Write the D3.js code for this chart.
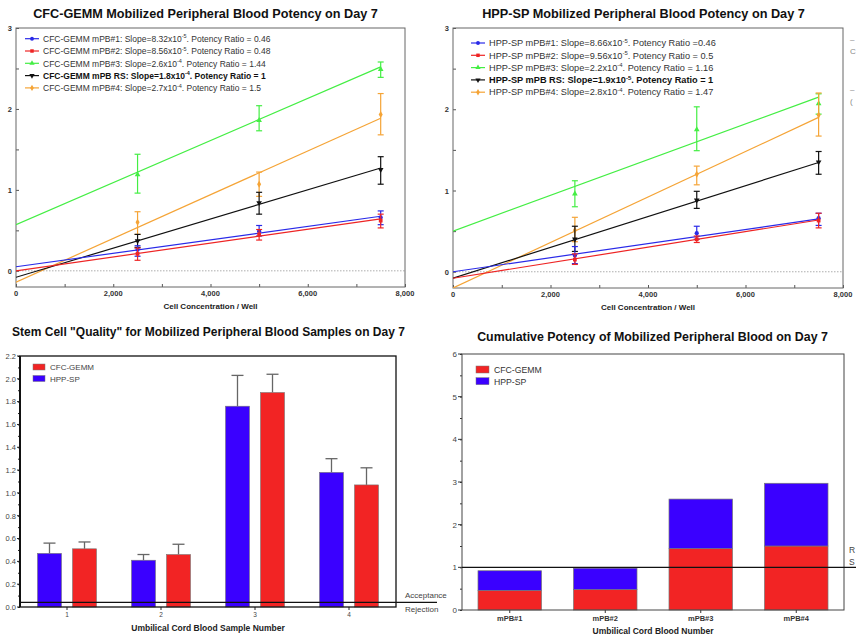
<!DOCTYPE html>
<html><head><meta charset="utf-8">
<script src="https://cdn.jsdelivr.net/npm/d3@7"></script>
<style>
body{margin:0;background:#fff;}
svg{display:block;font-family:"Liberation Sans",Arial,sans-serif;}
</style></head>
<body>
<svg id="c" width="856" height="637"></svg>
<script>
// ---------- DATA ----------
const cellConc = [2500, 5000, 7500];
const fitX = [0, 7500];
const xTicks = [0, 2000, 4000, 6000, 8000];
const yTicksLine = [0, 1, 2, 3];

const seriesColors = ["#2a2ae8", "#ee2424", "#44ee44", "#111111", "#f5a436"];
const seriesSymbols = ["circle", "square", "triangle", "triangleDown", "diamond"];

// CFC-GEMM panel
const cfcNames = ["CFC-GEMM mPB#1", "CFC-GEMM mPB#2", "CFC-GEMM mPB#3", "CFC-GEMM mPB RS", "CFC-GEMM mPB#4"];
const cfcSlope = ["8.32x10", "8.56x10", "2.6x10", "1.8x10", "2.7x10"];
const cfcSlopeExp = ["-5", "-5", "-4", "-4", "-4"];
const cfcRatio = [" = 0.46", " = 0.48", " = 1.44", " = 1", " = 1.5"];
const cfcMean = [[0.26, 0.49, 0.66], [0.21, 0.45, 0.62], [1.19, 1.86, 2.49], [0.37, 0.84, 1.25], [0.60, 1.07, 1.93]];
const cfcLow  = [[0.18, 0.43, 0.57], [0.13, 0.38, 0.53], [0.96, 1.73, 2.39], [0.29, 0.70, 1.07], [0.45, 0.92, 1.68]];
const cfcHigh = [[0.31, 0.56, 0.74], [0.28, 0.51, 0.70], [1.44, 2.04, 2.58], [0.45, 0.97, 1.41], [0.73, 1.22, 2.19]];
const cfcFit  = [[0.05, 0.674], [0.0, 0.642], [0.57, 2.52], [-0.08, 1.27], [-0.14, 1.885]];

// HPP-SP panel
const hppNames = ["HPP-SP mPB#1", "HPP-SP mPB#2", "HPP-SP mPB#3", "HPP-SP mPB RS", "HPP-SP mPB#4"];
const hppSlope = ["8.66x10", "9.56x10", "2.2x10", "1.9x10", "2.8x10"];
const hppSlopeExp = ["-5", "-5", "-4", "-5", "-4"];
const hppRatio = [" =0.46", " = 0.5", " = 1.16", " = 1", " = 1.47"];
const hppMean = [[0.20, 0.475, 0.66], [0.15, 0.40, 0.63], [0.96, 1.75, 2.07], [0.40, 0.88, 1.35], [0.51, 1.20, 1.93]];
const hppLow  = [[0.10, 0.40, 0.57], [0.09, 0.36, 0.54], [0.80, 1.49, 1.94], [0.25, 0.78, 1.20], [0.37, 1.07, 1.67]];
const hppHigh = [[0.31, 0.56, 0.72], [0.22, 0.44, 0.72], [1.12, 2.03, 2.19], [0.56, 0.99, 1.48], [0.67, 1.30, 2.20]];
const hppFit  = [[0.0, 0.65], [-0.08, 0.637], [0.5, 2.15], [-0.08, 1.345], [-0.2, 1.9]];

// Stem cell quality
const sampleNums = ["1", "2", "3", "4"];
const qualKeys = ["HPP-SP", "CFC-GEMM"];
const qualHPP = [0.47, 0.41, 1.76, 1.18];
const qualHPPErr = [0.56, 0.46, 2.03, 1.30];
const qualCFC = [0.51, 0.46, 1.88, 1.07];
const qualCFCErr = [0.57, 0.55, 2.04, 1.22];
const qualTicks = [0, 0.2, 0.4, 0.6, 0.8, 1.0, 1.2, 1.4, 1.6, 1.8, 2.0, 2.2];
const acceptanceLevel = 0.04;

// Cumulative potency
const mpbLabels = ["mPB#1", "mPB#2", "mPB#3", "mPB#4"];
const cumCFC = [0.46, 0.48, 1.44, 1.5];
const cumHPP = [0.46, 0.5, 1.16, 1.47];
const cumTicks = [0, 1, 2, 3, 4, 5, 6];
const refLevel = 1;

const RED = "#f22424", BLUE = "#3a00ff";

// ---------- DRAW ----------
const svg = d3.select("#c");

function fitWidth(sel, target) {
  const fs = parseFloat(sel.attr("font-size"));
  const len = sel.node().getComputedTextLength();
  if (len > 0) sel.attr("font-size", (fs * target / len).toFixed(2));
  return sel;
}
function title(x, y, w, txt) {
  const t = svg.append("text").attr("x", x).attr("y", y).attr("text-anchor", "middle")
    .attr("font-size", 14).attr("font-weight", "bold").attr("fill", "#111").text(txt);
  fitWidth(t, w);
}

function symbolPath(name, size) {
  const map = {circle: d3.symbolCircle, square: d3.symbolSquare, triangle: d3.symbolTriangle,
    triangleDown: d3.symbolTriangle, diamond: d3.symbolDiamond};
  return d3.symbol().type(map[name]).size(size)();
}

function linePanel(o) {
  const x = d3.scaleLinear().domain([0, 8000]).range([o.x0, o.x1]);
  const y = d3.scaleLinear().domain([-0.2, 3]).range([o.yB, o.yT]);
  const g = svg.append("g");
  const clipId = "clip" + o.id;
  svg.append("clipPath").attr("id", clipId).append("rect")
    .attr("x", o.x0).attr("y", o.yT).attr("width", o.x1 - o.x0).attr("height", o.yB - o.yT);

  title(o.titleX, 18, o.titleW, o.title);

  // zero line
  g.append("line").attr("x1", o.x0).attr("x2", o.x1).attr("y1", y(0)).attr("y2", y(0))
    .attr("stroke", "#999").attr("stroke-width", 0.8).attr("stroke-dasharray", "1.5,1.5");

  // axes (ticks inside)
  const ax = g.append("g").attr("transform", `translate(0,${o.yB})`)
    .call(d3.axisBottom(x).tickValues(d3.range(0, 8001, 1000)).tickSize(-3).tickFormat(""));
  ax.select(".domain").remove();
  ax.selectAll("line").attr("stroke", "#555");
  g.selectAll(".xl").data(xTicks).join("text").attr("x", d => x(d)).attr("y", o.yB + 9)
    .attr("text-anchor", "middle").attr("font-size", 7.5).attr("font-weight", "bold").attr("fill", "#333")
    .text(d => d3.format(",")(d));
  const ay = g.append("g").attr("transform", `translate(${o.x0},0)`)
    .call(d3.axisLeft(y).tickValues([0, 0.5, 1, 1.5, 2, 2.5, 3]).tickSize(-3).tickFormat(""));
  ay.select(".domain").remove();
  ay.selectAll("line").attr("stroke", "#555");
  g.selectAll(".yl").data(yTicksLine).join("text").attr("x", o.x0 - 4).attr("y", d => y(d) + 3)
    .attr("text-anchor", "end").attr("font-size", 7.5).attr("font-weight", "bold").attr("fill", "#333")
    .text(d => d);
  g.append("text").attr("x", (o.x0 + o.x1) / 2).attr("y", o.yB + 22).attr("text-anchor", "middle")
    .attr("font-size", 8).attr("font-weight", "bold").attr("fill", "#222").text("Cell Concentration / Well");

  // frame
  g.append("rect").attr("x", o.x0).attr("y", o.yT).attr("width", o.x1 - o.x0).attr("height", o.yB - o.yT)
    .attr("fill", "none").attr("stroke", "#666").attr("stroke-width", 1);

  const pg = g.append("g").attr("clip-path", `url(#${clipId})`);
  const order = [2, 4, 3, 0, 1];
  order.forEach(i => {
    const c = seriesColors[i];
    pg.append("line").attr("x1", x(fitX[0])).attr("x2", x(fitX[1]))
      .attr("y1", y(o.fit[i][0])).attr("y2", y(o.fit[i][1]))
      .attr("stroke", c).attr("stroke-width", 1.2);
    cellConc.forEach((cx, j) => {
      const px = x(cx);
      pg.append("line").attr("x1", px).attr("x2", px).attr("y1", y(o.low[i][j])).attr("y2", y(o.high[i][j]))
        .attr("stroke", c).attr("stroke-width", 1.2);
      [o.low[i][j], o.high[i][j]].forEach(v => pg.append("line").attr("x1", px - 3).attr("x2", px + 3)
        .attr("y1", y(v)).attr("y2", y(v)).attr("stroke", c).attr("stroke-width", 1.2));
      pg.append("path").attr("d", symbolPath(seriesSymbols[i], 14))
        .attr("transform", `translate(${px},${y(o.mean[i][j])})` + (seriesSymbols[i] === "triangleDown" ? " rotate(180)" : ""))
        .attr("fill", c);
    });
  });

  // legend
  o.names.forEach((n, i) => {
    const ly = o.legY + i * 12.3;
    const c = seriesColors[i];
    g.append("line").attr("x1", o.legX).attr("x2", o.legX + 14).attr("y1", ly).attr("y2", ly)
      .attr("stroke", c).attr("stroke-width", 1.2);
    g.append("path").attr("d", symbolPath(seriesSymbols[i], 12))
      .attr("transform", `translate(${o.legX + 7},${ly})` + (seriesSymbols[i] === "triangleDown" ? " rotate(180)" : ""))
      .attr("fill", c);
    const bold = i === 3;
    const t = g.append("text").attr("x", o.legX + 18).attr("y", ly + 3.2)
      .attr("font-size", o.legFs).attr("fill", bold ? "#111" : "#333").attr("font-weight", bold ? "bold" : "normal");
    t.append("tspan").text(n + ": Slope=" + o.slope[i]);
    t.append("tspan").attr("font-size", o.legFs * 0.65).attr("dy", -3.5).text(o.exp[i]);
    t.append("tspan").attr("dy", 3.5).text(". Potency Ratio" + o.ratio[i]);
  });
}

linePanel({id: "a", x0: 16, x1: 405, yT: 28, yB: 287, titleX: 205.5, titleW: 345,
  title: "CFC-GEMM Mobilized Peripheral Blood Potency on Day 7",
  mean: cfcMean, low: cfcLow, high: cfcHigh, fit: cfcFit, legFs: 8.5,
  names: cfcNames, slope: cfcSlope, exp: cfcSlopeExp, ratio: cfcRatio, legX: 25, legY: 38.7});
linePanel({id: "b", x0: 453, x1: 843, yT: 28, yB: 288, titleX: 643.5, titleW: 323,
  title: "HPP-SP Mobilized Peripheral Blood Potency on Day 7",
  mean: hppMean, low: hppLow, high: hppHigh, fit: hppFit, legFs: 9.2,
  names: hppNames, slope: hppSlope, exp: hppSlopeExp, ratio: hppRatio, legX: 471, legY: 43});

// partially visible side labels at right edge
["–", "C", "", "–", "(", ].forEach((s, i) => svg.append("text").attr("x", 850).attr("y", 42 + i * 12 + (i > 2 ? 14 : 0))
  .attr("font-size", 8).attr("fill", "#888").text(s));

// ---------- Quality panel ----------
{
  const x0 = 20, x1 = 396, yT = 356, yB = 607;
  const x = d3.scaleBand().domain(sampleNums).range([x0, x1]).paddingInner(0.372).paddingOuter(0.186);
  const xs = d3.scaleBand().domain(qualKeys).range([0, x.bandwidth()]).paddingInner(0.314);
  const y = d3.scaleLinear().domain([0, 2.2]).range([yB, yT]);
  const g = svg.append("g");
  title(208.5, 336, 393, 'Stem Cell "Quality" for Mobilized Peripheral Blood Samples on Day 7');

  const vals = {"HPP-SP": qualHPP, "CFC-GEMM": qualCFC};
  const errs = {"HPP-SP": qualHPPErr, "CFC-GEMM": qualCFCErr};
  const cols = {"HPP-SP": BLUE, "CFC-GEMM": RED};
  qualKeys.forEach(k => {
    sampleNums.forEach((s, i) => {
      const bx = x(s) + xs(k), bw = xs.bandwidth();
      g.append("line").attr("x1", bx + bw / 2).attr("x2", bx + bw / 2).attr("y1", y(vals[k][i])).attr("y2", y(errs[k][i]))
        .attr("stroke", "#666").attr("stroke-width", 1.3);
      g.append("line").attr("x1", bx + bw / 2 - 6).attr("x2", bx + bw / 2 + 6).attr("y1", y(errs[k][i])).attr("y2", y(errs[k][i]))
        .attr("stroke", "#666").attr("stroke-width", 1.3);
      g.append("rect").attr("x", bx).attr("y", y(vals[k][i])).attr("width", bw).attr("height", y(0) - y(vals[k][i]))
        .attr("fill", cols[k]).attr("stroke", "#777").attr("stroke-width", 0.6);
    });
  });

  // axes
  const ay = g.append("g").attr("transform", `translate(${x0},0)`)
    .call(d3.axisLeft(y).tickValues(d3.range(0, 2.21, 0.1)).tickSize(2).tickFormat(""));
  ay.select(".domain").remove();
  ay.selectAll("line").attr("stroke", "#222");
  g.selectAll(".ql").data(qualTicks).join("text").attr("x", 16).attr("y", d => y(d) + 2.8)
    .attr("text-anchor", "end").attr("font-size", 7.5).attr("fill", "#444").text(d => d.toFixed(1));
  g.selectAll(".qmaj").data(qualTicks).join("line").attr("x1", x0 - 3).attr("x2", x0).attr("y1", d => y(d)).attr("y2", d => y(d))
    .attr("stroke", "#222");
  sampleNums.forEach(s => {
    const cx = x(s) + x.bandwidth() / 2;
    g.append("line").attr("x1", cx).attr("x2", cx).attr("y1", yB).attr("y2", yB + 3).attr("stroke", "#222");
    g.append("text").attr("x", cx).attr("y", yB + 10).attr("text-anchor", "middle").attr("font-size", 6.5).attr("fill", "#444").text(s);
  });
  g.append("text").attr("x", 208).attr("y", 631).attr("text-anchor", "middle").attr("font-size", 8.5)
    .attr("font-weight", "bold").attr("fill", "#222").text("Umbilical Cord Blood Sample Number");

  g.append("rect").attr("x", x0).attr("y", yT).attr("width", x1 - x0).attr("height", yB - yT)
    .attr("fill", "none").attr("stroke", "#111").attr("stroke-width", 1.3);
  g.append("line").attr("x1", x0).attr("x2", x0).attr("y1", yT).attr("y2", yB).attr("stroke", "#111").attr("stroke-width", 2);

  // acceptance line
  g.append("line").attr("x1", x0).attr("x2", 437).attr("y1", y(acceptanceLevel)).attr("y2", y(acceptanceLevel))
    .attr("stroke", "#111").attr("stroke-width", 1.3);
  g.append("text").attr("x", 405).attr("y", 598).attr("font-size", 8).attr("fill", "#444").text("Acceptance");
  g.append("text").attr("x", 405).attr("y", 612).attr("font-size", 8).attr("fill", "#444").text("Rejection");

  // legend
  [["CFC-GEMM", RED], ["HPP-SP", BLUE]].forEach((d, i) => {
    g.append("rect").attr("x", 33).attr("y", 364 + i * 11.5).attr("width", 12).attr("height", 6)
      .attr("fill", d[1]).attr("stroke", "#777").attr("stroke-width", 0.5);
    g.append("text").attr("x", 50).attr("y", 370 + i * 11.5).attr("font-size", 8).attr("fill", "#444").text(d[0]);
  });
}

// ---------- Cumulative panel ----------
{
  const x0 = 462, x1 = 844, yT = 354, yB = 610;
  const x = d3.scaleBand().domain(mpbLabels).range([x0, x1]).paddingInner(0.335).paddingOuter(0.1675);
  const y = d3.scaleLinear().domain([0, 6]).range([yB, yT]);
  const g = svg.append("g");
  title(652.5, 341, 351, "Cumulative Potency of Mobilized Peripheral Blood on Day 7");

  const stack = d3.stack().keys(["cfc", "hpp"])(mpbLabels.map((m, i) => ({m, cfc: cumCFC[i], hpp: cumHPP[i]})));
  const cols = {cfc: RED, hpp: BLUE};
  stack.forEach(layer => {
    g.selectAll(null).data(layer).join("rect")
      .attr("x", d => x(d.data.m)).attr("width", x.bandwidth())
      .attr("y", d => y(d[1])).attr("height", d => y(d[0]) - y(d[1]))
      .attr("fill", cols[layer.key]).attr("stroke", "#777").attr("stroke-width", 0.7);
  });

  const ay = g.append("g").attr("transform", `translate(${x0},0)`)
    .call(d3.axisLeft(y).tickValues(d3.range(0, 6.01, 0.5)).tickSize(2).tickFormat(""));
  ay.select(".domain").remove();
  ay.selectAll("line").attr("stroke", "#333");
  g.selectAll(".cl").data(cumTicks).join("text").attr("x", 457).attr("y", d => y(d) + 3)
    .attr("text-anchor", "end").attr("font-size", 8).attr("fill", "#444").text(d => d);
  g.selectAll(".cmaj").data(cumTicks).join("line").attr("x1", x0 - 4).attr("x2", x0).attr("y1", d => y(d)).attr("y2", d => y(d))
    .attr("stroke", "#333");
  mpbLabels.forEach(m => {
    const cx = x(m) + x.bandwidth() / 2;
    g.append("line").attr("x1", cx).attr("x2", cx).attr("y1", yB).attr("y2", yB + 3).attr("stroke", "#333");
    g.append("text").attr("x", cx).attr("y", 621).attr("text-anchor", "middle").attr("font-size", 7.5)
      .attr("font-weight", "bold").attr("fill", "#333").text(m);
  });
  g.append("text").attr("x", 653).attr("y", 634).attr("text-anchor", "middle").attr("font-size", 8.5)
    .attr("font-weight", "bold").attr("fill", "#222").text("Umbilical Cord Blood Number");

  g.append("rect").attr("x", x0).attr("y", yT).attr("width", x1 - x0).attr("height", yB - yT)
    .attr("fill", "none").attr("stroke", "#444").attr("stroke-width", 1);

  g.append("line").attr("x1", x0).attr("x2", 856).attr("y1", y(refLevel)).attr("y2", y(refLevel))
    .attr("stroke", "#111").attr("stroke-width", 1.4);
  g.append("text").attr("x", 849).attr("y", 553).attr("font-size", 8.5).attr("fill", "#444").text("R");
  g.append("text").attr("x", 849).attr("y", 565).attr("font-size", 8.5).attr("fill", "#444").text("S");

  [["CFC-GEMM", RED], ["HPP-SP", BLUE]].forEach((d, i) => {
    g.append("rect").attr("x", 476).attr("y", 366 + i * 11.7).attr("width", 13).attr("height", 7)
      .attr("fill", d[1]).attr("stroke", "#777").attr("stroke-width", 0.5);
    g.append("text").attr("x", 494).attr("y", 373 + i * 11.7).attr("font-size", 8.7).attr("fill", "#333").text(d[0]);
  });
}
</script>
</body></html>
